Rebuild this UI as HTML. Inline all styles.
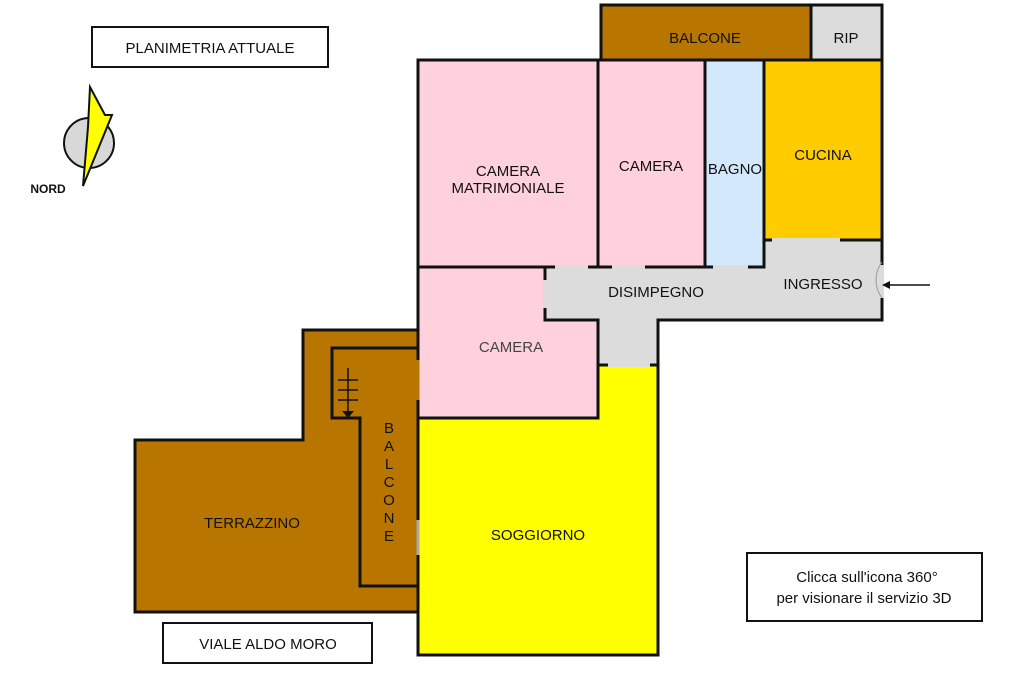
<!DOCTYPE html>
<html><head><meta charset="utf-8"><style>
body{margin:0;background:#fff;width:1024px;height:682px;overflow:hidden}
svg text{font-family:"Liberation Sans",sans-serif;fill:#111}
</style></head><body>
<svg width="1024" height="682" viewBox="0 0 1024 682" xmlns="http://www.w3.org/2000/svg">
<!-- terrazzino -->
<polygon points="303,330 418,330 418,612 135,612 135,440 303,440" fill="#b87600" stroke="#111" stroke-width="3"/>
<polyline points="418,348 332,348 332,418 360,418 360,586 418,586" fill="none" stroke="#111" stroke-width="3"/>
<g stroke="#111" stroke-width="1.5"><line x1="348" y1="368" x2="348" y2="414"/><line x1="338" y1="380" x2="358" y2="380"/><line x1="338" y1="390" x2="358" y2="390"/><line x1="338" y1="400" x2="358" y2="400"/></g>
<polygon points="342,411 354,411 348,418" fill="#111"/>
<!-- top balcone & rip -->
<rect x="601" y="5" width="210" height="55" fill="#b87600" stroke="#111" stroke-width="3"/>
<rect x="811" y="5" width="71" height="55" fill="#dcdcdc" stroke="#111" stroke-width="3"/>
<!-- rooms -->
<rect x="418" y="60" width="180" height="207" fill="#ffd1dc" stroke="#111" stroke-width="3"/>
<rect x="598" y="60" width="107" height="207" fill="#ffd1dc" stroke="#111" stroke-width="3"/>
<rect x="705" y="60" width="59" height="207" fill="#d3e8fb" stroke="#111" stroke-width="3"/>
<rect x="764" y="60" width="118" height="180" fill="#ffcc00" stroke="#111" stroke-width="3"/>
<polygon points="764,240 882,240 882,320 658,320 658,365 598,365 598,320 545,320 545,267 764,267" fill="#dcdcdc" stroke="#111" stroke-width="3"/>
<polygon points="418,267 545,267 545,320 598,320 598,418 418,418" fill="#ffd1dc" stroke="#111" stroke-width="3"/>
<polygon points="418,418 598,418 598,365 658,365 658,655 418,655" fill="#ffff00" stroke="#111" stroke-width="3"/>
<!-- door openings -->
<g stroke="#dcdcdc" stroke-width="4">
<line x1="555" y1="267" x2="588" y2="267"/><line x1="612" y1="267" x2="645" y2="267"/><line x1="713" y1="267" x2="748" y2="267"/>
<line x1="545" y1="280" x2="545" y2="308"/><line x1="764" y1="278" x2="764" y2="308"/>
<line x1="772" y1="240" x2="840" y2="240"/><line x1="608" y1="365" x2="650" y2="365"/><line x1="882" y1="265" x2="882" y2="298"/>
</g>
<path d="M882,262 A30,30 0 0 0 882,298" fill="none" stroke="#999" stroke-width="1"/>
<line x1="418" y1="360" x2="418" y2="400" stroke="#b87600" stroke-width="3"/>
<line x1="418" y1="520" x2="418" y2="555" stroke="#aaa" stroke-width="3"/>
<!-- arrow -->
<line x1="884" y1="285" x2="930" y2="285" stroke="#111" stroke-width="1.5"/>
<polygon points="882,285 890,281 890,289" fill="#111"/>
<!-- labels -->
<g font-size="15" text-anchor="middle">
<text x="705" y="43">BALCONE</text><text x="846" y="43">RIP</text>
<text x="508" y="176">CAMERA</text><text x="508" y="193">MATRIMONIALE</text>
<text x="651" y="171">CAMERA</text><text x="735" y="174">BAGNO</text>
<text x="823" y="160">CUCINA</text><text x="656" y="297">DISIMPEGNO</text>
<text x="823" y="289">INGRESSO</text><text x="511" y="352" fill="#444" style="fill:#444">CAMERA</text>
<text x="538" y="540">SOGGIORNO</text><text x="252" y="528">TERRAZZINO</text>
<text x="389" y="433">B</text><text x="389" y="451">A</text><text x="389" y="469">L</text><text x="389" y="487">C</text><text x="389" y="505">O</text><text x="389" y="523">N</text><text x="389" y="541">E</text>
</g>
<!-- boxes -->
<rect x="92" y="27" width="236" height="40" fill="#fff" stroke="#111" stroke-width="2"/>
<text x="210" y="53" font-size="15" text-anchor="middle">PLANIMETRIA ATTUALE</text>
<rect x="163" y="623" width="209" height="40" fill="#fff" stroke="#111" stroke-width="2"/>
<text x="268" y="649" font-size="15" text-anchor="middle">VIALE ALDO MORO</text>
<rect x="747" y="553" width="235" height="68" fill="#fff" stroke="#111" stroke-width="2"/>
<text x="867" y="582" font-size="15" text-anchor="middle">Clicca sull'icona 360°</text>
<text x="864" y="603" font-size="15" text-anchor="middle">per visionare il servizio 3D</text>
<!-- compass -->
<circle cx="89" cy="143" r="25" fill="#d8d8d8" stroke="#111" stroke-width="2"/>
<polygon points="90,87 105,115 112,115 83,186 88,127" fill="#ffff00" stroke="#111" stroke-width="2"/>
<text x="48" y="193" font-size="12" font-weight="bold" text-anchor="middle">NORD</text>
</svg>
</body></html>
